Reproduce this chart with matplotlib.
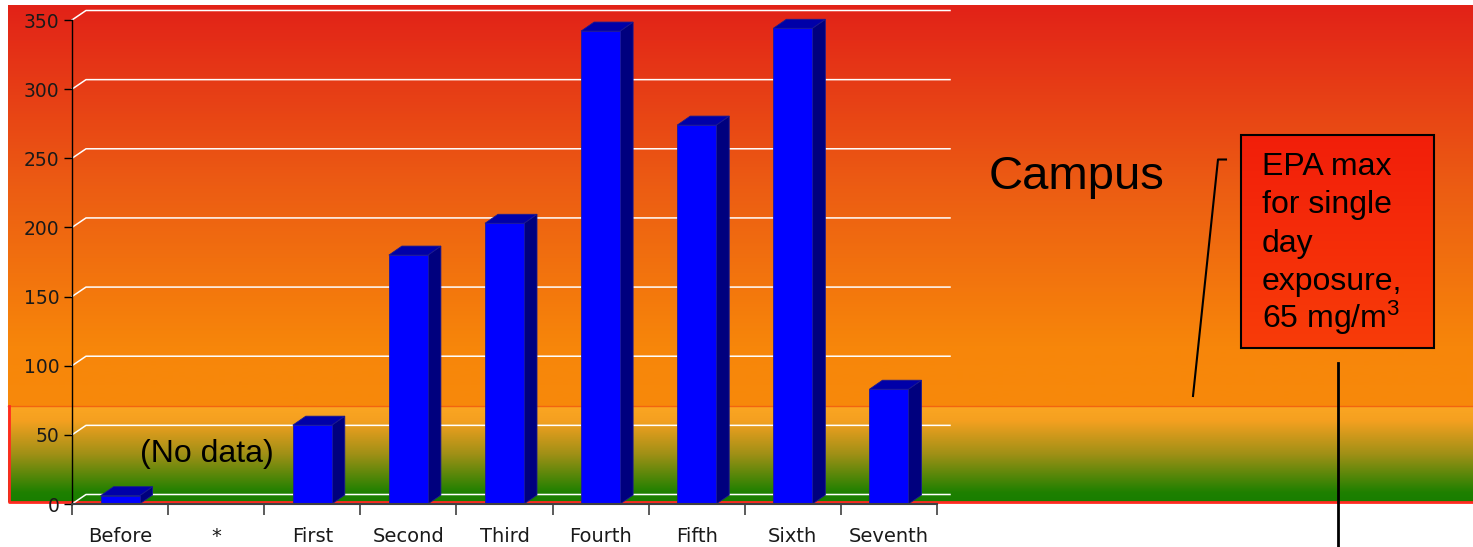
import numpy as np
import matplotlib
matplotlib.use("Agg")
import matplotlib.pyplot as plt
from matplotlib.patches import Polygon, Rectangle

plt.rcParams["mathtext.fontset"] = "custom"
plt.rcParams["mathtext.rm"] = "Liberation Sans"
plt.rcParams["mathtext.it"] = "Liberation Sans"

# ---------------- data ----------------
categories = ["Before", "*", "First", "Second", "Third", "Fourth", "Fifth", "Sixth", "Seventh"]
values = [6, None, 57, 180, 203, 342, 274, 344, 83]
y_ticks = [0, 50, 100, 150, 200, 250, 300, 350]
epa_lines = ["EPA max", "for single", "day", "exposure,", r"65 mg/m$^{\mathrm{3}}$"]

W, H = 1473, 547
fig = plt.figure(figsize=(W / 100, H / 100), dpi=100)
fig.patch.set_facecolor("white")

# ---------------- background (pixel coordinates) ----------------
bg = fig.add_axes([0, 0, 1, 1])
bg.set_xlim(0, W)
bg.set_ylim(H, 0)
bg.axis("off")

def vgrad(stops, n=400):
    pos = np.array([s[0] for s in stops])
    cols = np.array([s[1] for s in stops], dtype=float) / 255.0
    t = np.linspace(0, 1, n)
    out = np.stack([np.interp(t, pos, cols[:, k]) for k in range(3)], axis=1)
    return out[:, None, :]

top_grad = vgrad([(0.0, (226, 34, 24)), (0.45, (236, 92, 19)), (0.85, (247, 134, 10)), (1.0, (248, 137, 10))])
bg.imshow(top_grad, extent=(8, W, 406, 5), origin="upper", aspect="auto", zorder=0, interpolation="bilinear")
band_grad = vgrad([(0.0, (251, 166, 34)), (0.15, (245, 160, 32)), (0.5, (160, 144, 22)), (0.9, (30, 128, 0)), (1.0, (24, 126, 0))])
bg.imshow(band_grad, extent=(8, W, 502, 406), origin="upper", aspect="auto", zorder=0, interpolation="bilinear")
bg.plot([8, W], [406, 406], color="#F26410", lw=1.0, zorder=1)
bg.plot([8.5, 8.5, W], [406, 502, 502], color="#FF2A20", lw=2.0, zorder=1)

# annotations
bg.text(207, 454, "(No data)", fontsize=23, family="Liberation Sans", ha="center", va="center", color="black", zorder=3)
bg.text(989, 177, "Campus", fontsize=34, family="Liberation Sans", ha="left", va="center", color="black", zorder=3)

box_grad = vgrad([(0.0, (242, 30, 10)), (1.0, (248, 60, 8))])
bg.imshow(box_grad, extent=(1241, 1434, 348, 135), origin="upper", aspect="auto", zorder=2)
bg.add_patch(Rectangle((1241, 135), 193, 213, fill=False, edgecolor="black", lw=1.5, zorder=3))
for i, line in enumerate(epa_lines):
    bg.text(1262, 175 + i * 38.3, line, fontsize=23, family="Liberation Sans",
            ha="left", va="baseline", color="black", zorder=4)

bg.plot([1193, 1218, 1226], [396, 159.5, 159.5], color="black", lw=1.5, zorder=3)
bg.plot([1338, 1338], [363, 547], color="black", lw=2, zorder=3)

# ---------------- main chart axes ----------------
ax_left, ax_right, ax_top, ax_bot = 72, 937, 20, 504
ax = fig.add_axes([ax_left / W, (H - ax_bot) / H, (ax_right - ax_left) / W, (ax_bot - ax_top) / H])
ax.set_facecolor("none")
n = len(categories)
ax.set_xlim(0, n)
ax.set_ylim(0, 350)

px_x = (ax_right - ax_left) / n        # pixels per category
px_y = (ax_bot - ax_top) / 350.0       # pixels per unit

# 3D gridlines
gdx, gdy = 14 / px_x, 9.5 / px_y
gx_end = (950 - ax_left) / px_x
for v in y_ticks:
    ax.plot([0, gdx, gx_end], [v, v + gdy, v + gdy], color="white", lw=1.1, zorder=1, clip_on=False)

# 3D bars
bw = 39 / px_x
ddx, ddy = 13 / px_x, 9 / px_y
for i, v in enumerate(values):
    if v is None:
        continue
    c = i + 0.5
    x0, x1 = c - bw / 2, c + bw / 2
    side = Polygon([(x1, 0), (x1 + ddx, ddy), (x1 + ddx, v + ddy), (x1, v)], closed=True,
                   facecolor="#00007E", edgecolor="#1A1A90", lw=0.6, zorder=3, clip_on=False)
    top = Polygon([(x0, v), (x1, v), (x1 + ddx, v + ddy), (x0 + ddx, v + ddy)], closed=True,
                  facecolor="#0000A8", edgecolor="#1A1A90", lw=0.6, zorder=3, clip_on=False)
    front = Rectangle((x0, 0), bw, v, facecolor="#0000FF", edgecolor="#1A1AA0", lw=0.6, zorder=4, clip_on=False)
    ax.add_patch(side)
    ax.add_patch(top)
    ax.add_patch(front)

# axes styling
for s in ["top", "right"]:
    ax.spines[s].set_visible(False)
ax.spines["left"].set_color("black")
ax.spines["left"].set_linewidth(1.0)
ax.spines["bottom"].set_color("#404040")
ax.spines["bottom"].set_linewidth(1.5)
ax.spines["left"].set_zorder(5)
ax.spines["bottom"].set_zorder(5)

ax.set_yticks(y_ticks)
ax.set_yticklabels([str(t) for t in y_ticks], fontsize=13.5, family="DejaVu Sans", color="#1a1a1a")
ax.tick_params(axis="y", direction="out", length=6, width=1, color="black", pad=3)

ax.set_xticks(np.arange(0, n + 1))
ax.set_xticklabels([])
ax.set_xticks(np.arange(n) + 0.5, minor=True)
ax.set_xticklabels(categories, minor=True, fontsize=14, family="DejaVu Sans", color="#1a1a1a")
ax.tick_params(axis="x", which="major", direction="out", length=8, width=1.2, color="#404040")
ax.tick_params(axis="x", which="minor", length=0, pad=16.5)

fig.savefig("out.png", dpi=100, facecolor="white")
